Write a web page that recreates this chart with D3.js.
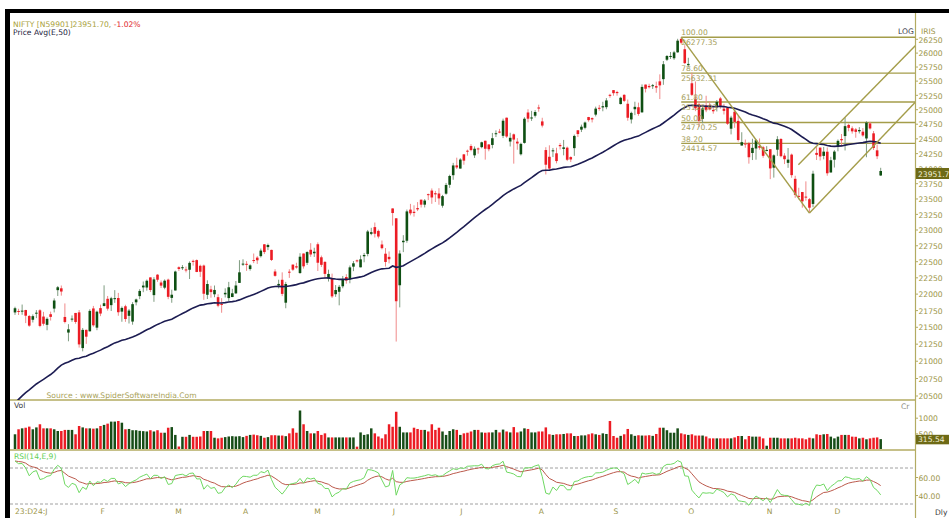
<!DOCTYPE html>
<html><head><meta charset="utf-8">
<script src="https://cdn.jsdelivr.net/npm/d3@7"></script>
<style>
body{margin:0;background:#fff;}
svg{display:block;font-family:"DejaVu Sans",Verdana,sans-serif;}
</style>
</head><body>
<svg id="c" width="949" height="518"></svg>
<script>
// ---------------- DATA (daily NIFTY, 28 Dec 2023 .. 19 Dec 2024) ----------------
const open = [21715,21737,21727,21751,21661,21605,21705,21747,21653,21529,21688,21773,22053,22081,21647,21414,21615,21707,21716,21185,21454,21433,21775,21487,
21780,21812,21921,21825,21930,21933,21727,21808,21664,21578,21868,21962,22095,22093,22249,21977,22291,22170,22091,22214,21935,
22048,22406,22404,22372,22367,22505,22517,22428,22432,21982,22065,21990,21946,21843,21989,21932,21948,22004,22164,
22456,22459,22378,22518,22556,22579,22765,22721,22677,22340,22125,22212,21862,22337,22447,22421,22316,22620,22475,22679,
22624,22766,22561,22489,22231,22224,21991,22028,22112,22255,22218,22415,22513,22405,22577,22614,22931,23038,22977,22762,22617,22568,
23338,23179,22128,22798,22821,23319,23284,23344,23480,23399,23570,23629,23586,23581,23382,23578,23724,23882,24045,
23992,24229,24291,24370,24213,24329,24351,24459,24396,24388,24573,24615,24543,24853,24446,24568,24444,24231,24423,24943,24839,24887,
25030,24789,24302,24189,24290,24247,24387,24321,24342,24184,24334,24637,24648,24680,24864,24846,24906,25024,25031,25035,25250,
25333,25300,25089,25250,25094,24823,24999,25034,24945,25430,25406,25417,25403,25487,25526,25872,25921,25899,26005,26248,26061,
25788,25453,25181,25085,24832,25065,25068,24986,25031,25187,25009,25027,24664,24956,24798,24378,24412,24418,24252,24328,24371,24349,
24302,24316,24007,24308,24489,24208,24087,24225,23822,23542,23605,23530,23488,23411,24254,24343,24204,24274,23927,
24140,24367,24489,24539,24729,24671,24652,24620,24613,24498,24754,24585,24297,23877];
const high = [21801,21770,21834,21755,21677,21685,21750,21763,21724,21641,21727,21928,22116,22124,21851,21539,21670,21708,21751,21482,21459,21763,21813,21741,
21832,22127,21964,21951,22053,22011,21805,21831,21767,21870,21924,22069,22186,22216,22249,22252,22298,22202,22218,22230,22060,
22353,22420,22440,22416,22497,22525,22527,22446,22447,22204,22120,22124,21990,21931,22081,22180,22073,22193,22516,
22530,22501,22452,22620,22579,22698,22768,22776,22680,22375,22213,22327,22180,22375,22447,22476,22625,22620,22655,22783,
22711,22795,22588,22499,22368,22307,22131,22132,22271,22298,22433,22503,22526,22591,22629,22993,23027,23111,22999,22825,22706,22653,
23339,23180,22670,22910,23320,23412,23389,23441,23481,23490,23579,23664,23624,23668,23558,23754,23890,24087,24174,
24164,24236,24309,24401,24363,24345,24443,24461,24402,24592,24636,24661,24837,24855,24595,24582,24504,24426,24861,24999,24971,24984,
25078,24852,24350,24382,24337,24341,24419,24473,24360,24196,24564,24638,24734,24787,24867,24858,25044,25074,25129,25193,25268,
25333,25321,25216,25260,25168,24957,25130,25114,25433,25430,25445,25441,25482,25611,25849,25956,26011,26032,26250,26277,26134,
25907,25639,25485,25143,25044,25234,25134,25028,25160,25213,25093,25029,24886,24979,24882,24604,24480,24440,24493,24484,24498,24372,
24368,24317,24230,24537,24503,24249,24336,24243,23873,23675,23606,23780,23507,23956,24351,24343,24354,24345,24188,
24301,24481,24574,24857,24751,24705,24677,24691,24675,24793,24782,24625,24394,24005];
const low = [21678,21676,21680,21555,21500,21564,21629,21493,21517,21448,21593,21715,21964,21969,21550,21285,21575,21545,21192,21137,21247,21430,21501,21449,
21659,21806,21742,21737,21860,21665,21575,21574,21549,21531,21821,21915,22022,22045,22024,21875,22181,22086,22067,21915,21861,
22048,22348,22363,22326,22224,22431,22329,22256,21906,21918,21938,21945,21793,21710,21941,21883,21947,21996,22163,
22427,22350,22353,22470,22458,22557,22612,22673,22503,22260,22079,21962,21778,22241,22349,22384,22305,22385,22441,22568,
22567,22348,22409,22232,22185,21933,21951,21822,22082,22152,22158,22345,22480,22404,22483,22577,22909,22872,22858,22685,22417,22466,
23062,21281,21791,22642,22789,23227,23206,23295,23353,23354,23473,23413,23442,23398,23350,23562,23673,23806,23985,
23992,24056,24207,24281,24169,24240,24331,24141,24281,24331,24522,24587,24504,24508,24362,24074,24307,24210,24410,24774,24798,24856,
24956,24686,23894,23960,24184,24079,24311,24213,24116,24100,24204,24522,24607,24654,24784,24771,24875,24974,24964,24999,25199,
25235,25235,25083,25124,24801,24753,24897,24886,24941,25292,25362,25353,25286,25176,25426,25848,25886,25871,25998,26151,25794,
25739,25230,24966,24694,24756,24948,24979,24921,24961,25008,24908,24729,24567,24679,24445,24378,24341,24074,24134,24140,24307,24172,
24280,23817,23842,24204,24179,24067,24004,23839,23510,23484,23350,23464,23263,23359,24135,24126,24146,23873,23927,
24009,24281,24367,24295,24620,24580,24510,24583,24527,24181,24648,24303,24150,23870];
const close = [21778,21731,21742,21666,21517,21659,21711,21513,21545,21619,21648,21895,22097,22032,21572,21462,21622,21572,21239,21454,21353,21738,21522,21726,
21698,21854,21772,21929,21931,21718,21783,21616,21743,21840,21911,22041,22123,22197,22055,22218,22213,22122,22198,21951,21983,
22339,22379,22406,22356,22474,22494,22333,22336,21998,22147,22023,22056,21817,21839,22012,22097,22005,22124,22327,
22462,22453,22435,22515,22514,22666,22643,22754,22519,22273,22148,21996,22147,22336,22368,22402,22570,22420,22643,22605,
22648,22476,22443,22303,22302,21958,22055,22104,22218,22201,22404,22467,22502,22529,22597,22968,22957,22932,22888,22704,22488,22531,
23264,21884,22620,22821,23290,23259,23265,23323,23399,23466,23558,23516,23567,23501,23538,23721,23869,24044,24011,
24142,24124,24287,24302,24324,24321,24433,24324,24316,24502,24587,24613,24801,24531,24509,24479,24413,24406,24835,24836,24857,24951,
25011,24718,24056,23992,24297,24117,24367,24347,24139,24144,24541,24573,24698,24770,24811,24823,25010,25017,25052,25152,25236,
25279,25280,25199,25145,24852,24936,25041,24918,25389,25357,25384,25419,25377,25416,25791,25939,25940,26004,26216,26179,25811,
25797,25250,25015,24796,25013,24982,24998,24964,25128,25057,24971,24750,24854,24781,24472,24435,24399,24181,24339,24467,24341,24205,
24304,23995,24213,24484,24199,24148,24141,23883,23559,23533,23453,23518,23350,23907,24221,24194,24275,23914,24131,
24276,24457,24467,24708,24678,24619,24610,24642,24549,24768,24668,24336,24198,23951.7];
const volume = [470,630,660,680,715,630,690,790,660,660,660,630,575,575,610,610,610,470,735,690,660,660,650,660,
735,770,810,875,875,895,840,630,640,600,600,580,570,560,600,560,600,520,520,680,700,450,
80,390,390,450,390,390,400,575,575,575,360,340,360,380,400,410,400,410,380,420,450,460,440,420,360,380,440,440,430,430,410,500,660,520,
1230,790,575,500,500,575,450,500,370,370,370,370,370,370,370,370,
75,530,450,470,660,500,400,340,470,790,710,
1190,710,530,530,530,680,640,610,610,560,790,610,680,560,450,575,630,610,450,500,520,560,610,610,530,520,530,530,610,530,620,
560,530,700,530,560,660,640,530,530,560,560,690,470,450,470,470,480,500,500,415,415,435,435,470,500,470,450,500,480,
895,415,360,420,470,640,470,420,440,430,430,440,420,480,680,680,600,520,520,660,500,470,450,470,430,430,430,400,340,340,340,
340,340,340,340,370,415,415,310,415,395,395,395,340,105,360,360,360,340,340,340,340,360,340,340,310,360,340,470,450,470,480,
395,340,395,450,450,450,395,390,340,360,310,340,360,370,315.54];

const monthLabels = [{i:0,t:"23:D24:J"},{i:24,t:"F"},{i:45,t:"M"},{i:64,t:"A"},{i:84,t:"M"},{i:106,t:"J"},
  {i:125,t:"J"},{i:147,t:"A"},{i:168,t:"S"},{i:189,t:"O"},{i:211,t:"N"},{i:230,t:"D"}];
const priceTicks = [26250,26000,25750,25500,25250,25000,24750,24500,24250,24000,23750,23500,23250,23000,22750,22500,22250,22000,21750,21500,21250,21000,20750,20500];
const volTicks = [1000,500];
const rsiTicks = [60,40];
const fibPct = ["100.00","78.60","61.80","50.00","38.20"];
const fibPrice = [26277.35,25632.31,25125.93,24770.25,24414.57];
const fibStartIndex = 187;
const trendLines = [
  [{i:187,p:26277.35},{i:223,p:23263.15}],
  [{i:223,p:23263.15},{i:252.9,p:25132}],
  [{i:219.9,p:24056},{i:252.9,p:26137}]
];
const emaSeed = 20392;            // Avg(E,50) value at the first bar (line enters at panel bottom)
const rsiSeedGain = 70, rsiSeedLoss = 20;

// ---------------- DERIVED INDICATORS ----------------
const N = close.length;
const ema = []; { const a = 2/51; let e = emaSeed; for (let k=0;k<N;k++){ if(k>0) e = e + a*(close[k]-e); ema.push(e);} }
const rsi = [], sig = [];
{ let g=rsiSeedGain, l=rsiSeedLoss;
  for (let k=0;k<N;k++){ if(k>0){ const ch=close[k]-close[k-1]; g=(g*13+Math.max(ch,0))/14; l=(l*13+Math.max(-ch,0))/14; }
    rsi.push(100-100/(1+g/l)); }
  let s=rsi[0]; for(let k=0;k<N;k++){ if(k>0) s = s + 0.2*(rsi[k]-s); sig.push(s);} }

// ---------------- DRAW ----------------
const svg = d3.select("#c");
const OL = "#a49d4a", AX = "#b3ab62", TXT = "#9c9548";
const RED = "#ec1c24", GRN = "#0e4f12";
const axisX = 915.5;

// frame
svg.append("rect").attr("x",0).attr("y",0).attr("width",949).attr("height",518).attr("fill","#fff");
svg.append("rect").attr("x",5).attr("y",9).attr("width",944).attr("height",4).attr("fill","#000");
svg.append("rect").attr("x",5).attr("y",9).attr("width",5).attr("height",509).attr("fill","#000");

const x = d3.scaleLinear().domain([0,243]).range([15,880.7]);
const y = d3.scaleLog().domain([20500,26250]).range([395.5,38.8]);
const yv = d3.scaleLinear().domain([0,1000]).range([449,417.7]);
const yr = d3.scaleLinear().domain([30,70]).range([504,468]);

const defs = svg.append("defs");
defs.append("clipPath").attr("id","pclip").append("rect").attr("x",10).attr("y",13).attr("width",axisX-10).attr("height",387);
defs.append("clipPath").attr("id","rclip").append("rect").attr("x",10).attr("y",451).attr("width",axisX-10).attr("height",60);

// separators
[400,450].forEach(v=>svg.append("line").attr("x1",10).attr("x2",axisX).attr("y1",v).attr("y2",v).attr("stroke",AX).attr("stroke-width",1.3));

const P = svg.append("g").attr("clip-path","url(#pclip)");

// fib levels
fibPrice.forEach((p,k)=>{
  const yy = y(p);
  P.append("line").attr("x1",x(fibStartIndex)).attr("x2",axisX).attr("y1",yy).attr("y2",yy).attr("stroke",OL).attr("stroke-width",1.4);
});

// candles
const C = P.append("g");
for (let k=0;k<N;k++){
  const up = close[k]>=open[k];
  C.append("line").attr("x1",x(k)).attr("x2",x(k)).attr("y1",y(high[k])).attr("y2",y(low[k]))
    .attr("stroke", up? "#7f9c80":"#f08a8a").attr("stroke-width",1);
  const y1 = y(Math.max(open[k],close[k])), y2 = y(Math.min(open[k],close[k]));
  C.append("rect").attr("x",x(k)-1.3).attr("width",2.6).attr("y",y1).attr("height",Math.max(1,y2-y1))
    .attr("fill", up? GRN: RED);
}

// EMA 50
P.append("path").datum(ema).attr("fill","none").attr("stroke","#1c1c52").attr("stroke-width",1.6)
  .attr("d", d3.line().x((d,k)=>x(k)).y(d=>y(d)));

// trend lines
trendLines.forEach(t=>{
  P.append("line").attr("x1",x(t[0].i)).attr("y1",y(t[0].p)).attr("x2",x(t[1].i)).attr("y2",y(t[1].p))
   .attr("stroke",OL).attr("stroke-width",1.4);
});

// fib labels
const F = svg.append("g").attr("font-size","7.6px").attr("fill","#a59e5a");
fibPrice.forEach((p,k)=>{
  const yy = y(p);
  F.append("text").attr("x",x(fibStartIndex)).attr("y",yy-1.8).text(fibPct[k]);
  F.append("text").attr("x",x(fibStartIndex)).attr("y",yy+7.8).text(p.toFixed(2));
});

// price axis
const axisG = svg.append("g").attr("transform",`translate(${axisX},0)`)
  .call(d3.axisRight(y).tickValues(priceTicks).tickSize(2.5).tickFormat(d3.format("d")));
axisG.select(".domain").remove();
axisG.selectAll("line").attr("stroke",AX);
axisG.selectAll("text").attr("fill",TXT).attr("font-size","7.6px").attr("font-family","DejaVu Sans").attr("x",3).attr("dy","0.42em");
svg.append("line").attr("x1",axisX).attr("x2",axisX).attr("y1",13).attr("y2",518).attr("stroke",AX).attr("stroke-width",1.2);

// last price box
const lp = close[N-1];
svg.append("rect").attr("x",axisX+0.5).attr("y",y(lp)-3).attr("width",40).attr("height",11).attr("fill","#6e6a16");
svg.append("text").attr("x",axisX+2.5).attr("y",y(lp)+5.6).attr("font-size","7.6px").attr("fill","#f2f0d8").text("23951.7");

// volume
const V = svg.append("g");
for (let k=0;k<N;k++){
  const up = close[k]>=open[k];
  V.append("rect").attr("x",x(k)-1.25).attr("width",2.5).attr("y",yv(volume[k])).attr("height",yv(0)-yv(volume[k]))
    .attr("fill", up? "#174d17": RED);
}
const vAx = svg.append("g").attr("transform",`translate(${axisX},0)`)
  .call(d3.axisRight(yv).tickValues(volTicks).tickSize(2.5).tickFormat(d3.format("d")));
vAx.select(".domain").remove();
vAx.selectAll("line").attr("stroke",AX);
vAx.selectAll("text").attr("fill",TXT).attr("font-size","7.6px").attr("font-family","DejaVu Sans").attr("x",3).attr("dy","0.42em");
svg.append("rect").attr("x",axisX+0.5).attr("y",yv(volume[N-1])-4.3).attr("width",40).attr("height",9.5).attr("fill","#6e6a16");
svg.append("text").attr("x",axisX+2.5).attr("y",yv(volume[N-1])+3.2).attr("font-size","7.6px").attr("fill","#f2f0d8").text("315.54");

// RSI panel
[70,30].forEach(v=>svg.append("line").attr("x1",10).attr("x2",axisX).attr("y1",yr(v)).attr("y2",yr(v))
  .attr("stroke","#a0a0a0").attr("stroke-width",1).attr("stroke-dasharray","3,2"));
const R = svg.append("g").attr("clip-path","url(#rclip)");
R.append("path").datum(sig).attr("fill","none").attr("stroke","#bb5a4c").attr("stroke-width",1)
  .attr("d", d3.line().x((d,k)=>x(k)).y(d=>yr(d)));
R.append("path").datum(rsi).attr("fill","none").attr("stroke","#6fd862").attr("stroke-width",1)
  .attr("d", d3.line().x((d,k)=>x(k)).y(d=>yr(d)));
const rAx = svg.append("g").attr("transform",`translate(${axisX},0)`)
  .call(d3.axisRight(yr).tickValues(rsiTicks).tickSize(2.5).tickFormat(d3.format(".2f")));
rAx.select(".domain").remove();
rAx.selectAll("line").attr("stroke",AX);
rAx.selectAll("text").attr("fill",TXT).attr("font-size","7.6px").attr("font-family","DejaVu Sans").attr("x",3).attr("dy","0.42em");

// month labels
const M = svg.append("g").attr("font-size","7.6px").attr("fill",TXT);
monthLabels.forEach(m=>M.append("text").attr("x",x(m.i)).attr("y",514).text(m.t));

// texts
const T = svg.append("g").attr("font-size","7.6px");
const h = T.append("text").attr("x",13).attr("y",26.5);
h.append("tspan").attr("fill","#aaa23c").text("NIFTY [N59901]23951.70, ");
h.append("tspan").attr("fill","#e0262a").text("-1.02%");
T.append("text").attr("x",13).attr("y",34.5).attr("fill","#1c1c40").text("Price  Avg(E,50)");
T.append("text").attr("x",898).attr("y",34).attr("fill","#3a3a4a").text("LOG");
T.append("text").attr("x",921).attr("y",33.5).attr("fill",TXT).text("IRIS");
T.append("text").attr("x",46.5).attr("y",398).attr("fill","#aaa35a").text("Source : www.SpiderSoftwareIndia.Com");
T.append("text").attr("x",14).attr("y",408).attr("fill","#3a3a3a").text("Vol");
T.append("text").attr("x",901).attr("y",409).attr("fill","#8c8c80").text("Cr");
T.append("text").attr("x",14).attr("y",458.5).attr("fill","#5fcf55").text("RSI(14,E,9)");
T.append("text").attr("x",935).attr("y",515).attr("fill","#3a3a3a").text("Dly");
</script>
</body></html>
